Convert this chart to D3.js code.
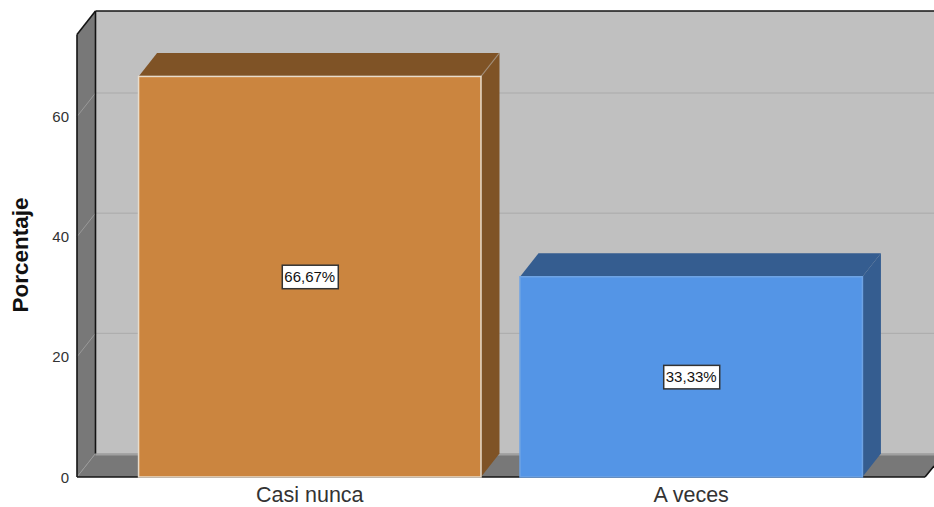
<!DOCTYPE html>
<html><head><meta charset="utf-8">
<script src="https://cdnjs.cloudflare.com/ajax/libs/d3/7.8.5/d3.min.js"></script>
<style>html,body{margin:0;padding:0;background:#fff}svg{display:block}text{font-family:"Liberation Sans",Arial,sans-serif}</style>
</head><body><svg id="c" width="934" height="507"></svg>
<script>
const categories = ["Casi nunca", "A veces"];
const values = [66.67, 33.33];
const valueLabels = ["66,67%", "33,33%"];
const ticks = [0, 20, 40, 60];
const axisTitle = "Porcentaje";
const frontColors = ["#cb853f", "#5495e6"];
const topColors = ["#7f5326", "#355d90"];

const svg = d3.select("#c");
const y = d3.scaleLinear().domain([0, 73.65]).range([477, 34.5]);
const x = d3.scaleBand().domain(categories).range([119, 882]).paddingInner(0.1023).paddingOuter(0.0513);
const dx = 18.5, dy = -23.5;
const x0 = 77, xR = 934;
const poly = (pts, fill, stroke, sw) => svg.append("polygon")
  .attr("points", pts.map(p => p.join(",")).join(" ")).attr("fill", fill)
  .attr("stroke", stroke || "none").attr("stroke-width", sw || 0);

// back wall, floor, left wall
poly([[x0+dx, y(73.65)+dy],[xR, y(73.65)+dy],[xR, y(0)+dy],[x0+dx, y(0)+dy]], "#c0c0c0");
poly([[x0, y(0)],[x0+dx, y(0)+dy],[xR, y(0)+dy],[xR, y(0)-10],[925, y(0)]], "#787878");
svg.append("rect").attr("x", x0+dx).attr("y", y(0)+dy).attr("width", xR-x0-dx).attr("height", 2).attr("fill", "#a0a0a0");
poly([[x0, y(73.65)],[x0+dx, y(73.65)+dy],[x0+dx, y(0)+dy],[x0, y(0)]], "#787878");

// gridlines
ticks.filter(t => t > 0).forEach(t => {
  svg.append("line").attr("x1", x0+dx).attr("x2", xR).attr("y1", y(t)+dy).attr("y2", y(t)+dy).attr("stroke", "#aaaaaa");
  svg.append("line").attr("x1", x0).attr("x2", x0+dx).attr("y1", y(t)).attr("y2", y(t)+dy).attr("stroke", "#999999");
});
svg.append("line").attr("x1", x0).attr("x2", x0+dx).attr("y1", y(0)).attr("y2", y(0)+dy).attr("stroke", "#999999");

// frame
const line = (a, b, w) => svg.append("line").attr("x1", a[0]).attr("y1", a[1]).attr("x2", b[0]).attr("y2", b[1])
  .attr("stroke", "#141414").attr("stroke-width", w || 1.6);
line([x0, y(73.65)], [x0, y(0)]);
line([x0, y(73.65)], [x0+dx, y(73.65)+dy]);
line([x0+dx, y(73.65)+dy], [xR, y(73.65)+dy]);
line([x0+dx, y(73.65)+dy], [x0+dx, y(0)+dy]);
line([x0, y(0)], [925, y(0)]);
line([925, y(0)], [xR, y(0)-11]);

// bars
categories.forEach((c, i) => {
  const l = x(c), r = l + x.bandwidth(), t = y(values[i]), b = y(0);
  poly([[l, t],[l+dx, t+dy],[r+dx, t+dy],[r, t]], topColors[i]);
  poly([[r, t],[r+dx, t+dy],[r+dx, b+dy],[r, b]], topColors[i]);
  svg.append("line").attr("x1", r).attr("y1", t).attr("x2", r+dx).attr("y2", t+dy).attr("stroke", "#a89a8a").attr("stroke-opacity", i ? 0 : .7).attr("stroke-width", 1.2);
  svg.append("rect").attr("x", l).attr("y", t).attr("width", r-l).attr("height", b-t)
    .attr("fill", frontColors[i]).attr("stroke", i ? "#6ea3e4" : "#e8dccb").attr("stroke-width", 1.5);
  // value label
  const cx = (l+r)/2, cy = (t+b)/2;
  svg.append("rect").attr("x", cx-27.5).attr("y", cy-11.5).attr("width", 56).attr("height", 23.5)
    .attr("fill", "#fff").attr("stroke", "#333").attr("stroke-width", 1.5);
  svg.append("text").attr("x", cx).attr("y", cy+5.5).attr("text-anchor", "middle")
    .attr("font-size", 15).attr("fill", "#111").text(valueLabels[i]);
  svg.append("text").attr("x", cx).attr("y", 502).attr("text-anchor", "middle")
    .attr("font-size", 21.5).attr("fill", "#333").text(c);
});

// ticks
ticks.forEach(t => {
  svg.append("text").attr("x", 69).attr("y", y(t)+5.5).attr("text-anchor", "end")
    .attr("font-size", 15).attr("fill", "#333").text(t);
});
svg.append("text").attr("transform", "translate(28,255) rotate(-90)").attr("text-anchor", "middle")
  .attr("font-size", 22.5).attr("font-weight", "bold").attr("fill", "#111").text(axisTitle);
</script></body></html>
